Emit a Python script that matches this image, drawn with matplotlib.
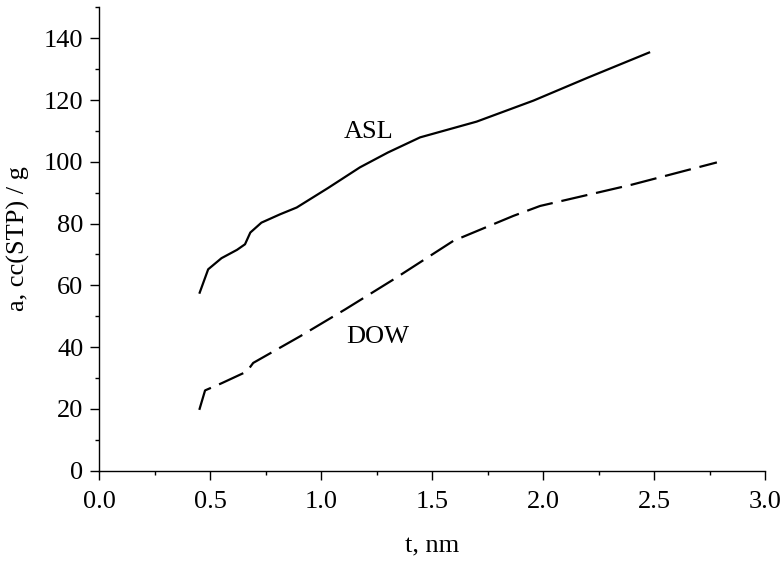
import matplotlib
matplotlib.use("Agg")
import matplotlib.pyplot as plt
from matplotlib.ticker import MultipleLocator

# --- data ---
asl_t = [0.45, 0.49, 0.55, 0.62, 0.656, 0.68, 0.73, 0.814, 0.889, 1.03, 1.174, 1.30, 1.445, 1.70, 1.956, 2.20, 2.482]
asl_a = [57.3, 65.2, 68.8, 71.5, 73.3, 77.1, 80.3, 83.0, 85.2, 91.5, 98.2, 103.0, 107.9, 113.0, 119.8, 127.2, 135.5]

dow_t = [0.45, 0.476, 0.55, 0.664, 0.693, 0.904, 1.107, 1.325, 1.595, 1.866, 1.986, 2.40, 2.783]
dow_a = [19.7, 26.0, 28.3, 32.1, 34.9, 43.5, 52.2, 61.9, 74.4, 82.5, 85.7, 92.6, 99.8]

labels = [("ASL", 1.215, 109.5), ("DOW", 1.256, 43.4)]

plt.rcParams['font.family'] = ['Liberation Serif', 'DejaVu Serif']
plt.rcParams['font.size'] = 19

fig = plt.figure(figsize=(7.82, 5.63), dpi=100)
ax = fig.add_axes([0.1272, 0.1639, 0.8511, 0.8231])

ax.plot(asl_t, asl_a, color='black', lw=1.6, solid_capstyle='butt')
ax.plot(dow_t, dow_a, color='black', lw=1.6, dashes=(12, 4), dash_capstyle='butt')

for txt, x, y in labels:
    ax.text(x, y, txt, ha='center', va='center', fontsize=19)

ax.set_xlim(0, 3.0)
ax.set_ylim(0, 150)
ax.xaxis.set_major_locator(MultipleLocator(0.5))
ax.xaxis.set_minor_locator(MultipleLocator(0.25))
ax.yaxis.set_major_locator(MultipleLocator(20))
ax.yaxis.set_minor_locator(MultipleLocator(10))
ax.set_yticks(range(0, 141, 20))
ax.set_xticks([0.0, 0.5, 1.0, 1.5, 2.0, 2.5, 3.0])
ax.set_xticklabels(['0.0', '0.5', '1.0', '1.5', '2.0', '2.5', '3.0'])

for s in ['top', 'right']:
    ax.spines[s].set_visible(False)
for s in ['left', 'bottom']:
    ax.spines[s].set_linewidth(1.0)

ax.tick_params(which='major', direction='out', length=6.5, width=1.0, pad=5)
ax.tick_params(which='minor', direction='out', length=3, width=1.0)
ax.tick_params(axis='x', which='major', pad=8)

ax.set_xlabel('t, nm', labelpad=16)
ax.set_ylabel('a, cc(STP) / g', labelpad=10)

fig.savefig('out.png', dpi=100)
